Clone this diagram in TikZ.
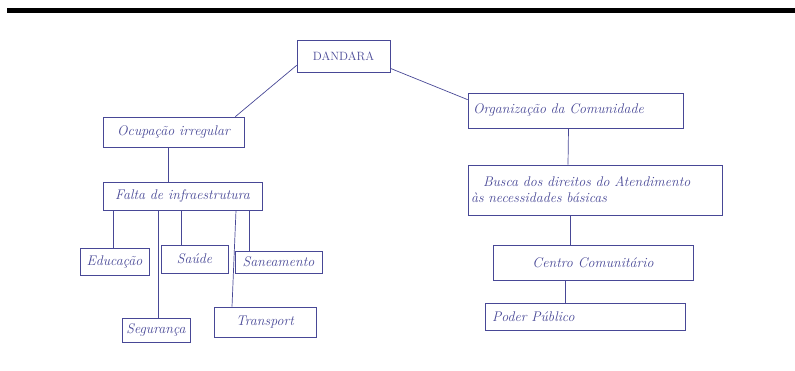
\documentclass[tikz,border=0pt]{standalone}
\usepackage{fontspec}
\begin{document}
\begin{tikzpicture}[x=1pt,y=-1pt,
  ink/.style={draw=inkc, line width=0.7pt},
  box/.style={ink, rectangle, inner sep=2pt, font=\itshape\fontsize{14}{16}\selectfont, text=inkc},
  conn/.style={ink}]
\definecolor{inkc}{RGB}{72,72,150}
\useasboundingbox (0,0) rectangle (795,371);
\fill[black] (7,8) rectangle (795,13.5);
% nodes
\node[box, minimum width=93pt, minimum height=32pt, font=\fontsize{12}{14}\selectfont] (dan) at (343.5,56) {DANDARA};
\node[box, minimum width=141pt, minimum height=30pt] (ocu) at (173.5,132) {Ocupação irregular};
\node[box, minimum width=159pt, minimum height=28pt] (fal) at (182.5,196) {Falta de infraestrutura};
\node[box, minimum width=69pt, minimum height=27pt] (edu) at (114.5,261.5) {Educação};
\node[box, minimum width=67pt, minimum height=28pt] (sau) at (194.5,259) {Saúde};
\node[box, minimum width=87pt, minimum height=22pt] (san) at (278.5,262) {Saneamento};
\node[box, minimum width=68pt, minimum height=24pt] (seg) at (156,330) {Segurança};
\node[box, minimum width=102pt, minimum height=30pt] (tra) at (265,322) {Transport};
\node[box, minimum width=215pt, minimum height=35pt, text width=205pt, align=left] (org) at (575.5,110.5) {Organização da Comunidade};
\node[box, minimum width=254pt, minimum height=50pt, text width=248pt, align=left] (bus) at (595,190) {\hspace*{12pt}Busca dos direitos do Atendimento\\às necessidades básicas};
\node[box, minimum width=200pt, minimum height=35pt] (cen) at (593,262.5) {Centro Comunitário};
\node[box, minimum width=200pt, minimum height=27pt, text width=186pt, align=left] (pod) at (585,316.5) {Poder Público};
% connectors
\draw[conn] ([yshift=7pt]dan.south west) -- ([xshift=-9pt]ocu.north east);
\draw[conn] ([yshift=4pt]dan.south east) -- ([yshift=-7pt]org.north west);
\draw[conn] ([xshift=-5pt]ocu.south) -- ([xshift=-14pt]fal.north);
\draw[conn] ([xshift=-1.5pt]edu.north) -- ([xshift=-1.5pt]edu.north |- fal.south);
\draw[conn] ([xshift=2pt]seg.north) -- ([xshift=2pt]seg.north |- fal.south);
\draw[conn] ([xshift=-13.5pt]sau.north) -- ([xshift=-13.5pt]sau.north |- fal.south);
\draw[conn] ([xshift=-33pt]tra.north) -- ([xshift=-29pt]tra.north |- fal.south);
\draw[conn] ([xshift=-29pt]san.north) -- ([xshift=-29pt]san.north |- fal.south);
\draw[conn] ([xshift=-7pt]org.south) -- ([xshift=-27pt]bus.north);
\draw[conn] ([xshift=-25pt]bus.south) -- ([xshift=-23pt]cen.north);
\draw[conn] ([xshift=-28pt]cen.south) -- ([xshift=-20pt]pod.north);
\end{tikzpicture}
\end{document}
